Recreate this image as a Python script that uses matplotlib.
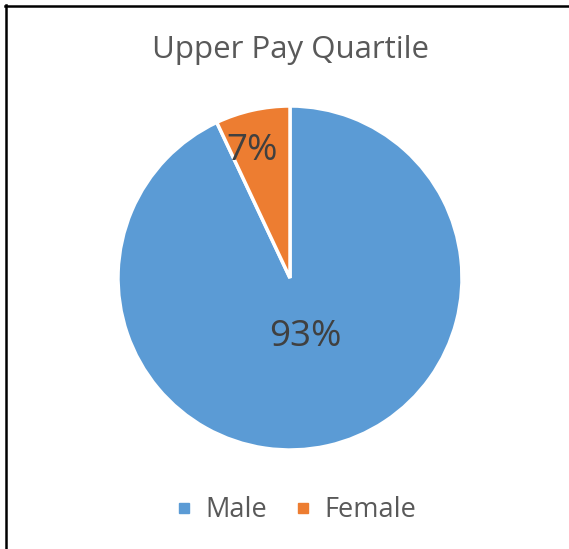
import matplotlib.pyplot as plt
from matplotlib.lines import Line2D

labels = ["Male", "Female"]
shares = [93, 7]
colors = ["#5B9BD5", "#ED7D31"]
title = "Upper Pay Quartile"

plt.rcParams['font.family'] = ['Open Sans', 'DejaVu Sans']

fig = plt.figure(figsize=(5.69, 5.49), dpi=100)
W, H = 569, 549

# pie axes: center (290, 278), radius 172 px
cx, cy, r = 290, 278, 172
ax = fig.add_axes([(cx - r) / W, 1 - (cy + r) / H, 2 * r / W, 2 * r / H])
wedges, texts = ax.pie(shares, colors=colors, startangle=90, counterclock=False,
                       wedgeprops=dict(edgecolor="white", linewidth=2.5))
ax.set_xlim(-1, 1)
ax.set_ylim(-1, 1)
ax.set_aspect("auto")

# data labels
ax.text(0.09, -0.345, "93%", ha="center", va="center", fontsize=26.5, color="#404040")
ax.text(-0.22, 0.74, "7%", ha="center", va="center", fontsize=26.5, color="#404040")

fig.text(290 / W, 1 - 50 / H, title, ha="center", va="center", fontsize=22.5, color="#595959")

handles = [Line2D([0], [0], marker="s", linestyle="none", markersize=7,
                  markerfacecolor=c, markeredgecolor=c) for c in colors]
fig.legend(handles, labels, loc="center", bbox_to_anchor=(296 / W, 1 - 510 / H),
           ncol=2, frameon=False, fontsize=19.5, labelcolor="#595959",
           handlelength=0.6, handletextpad=0.5, columnspacing=1.0)

# border (top and left visible)
fig.add_artist(Line2D([6 / W, 6 / W], [0, 1 - 5 / H], color="black", linewidth=1.8))
fig.add_artist(Line2D([5 / W, 1], [1 - 6 / H, 1 - 6 / H], color="black", linewidth=1.8))

fig.savefig("out.png", dpi=100)
